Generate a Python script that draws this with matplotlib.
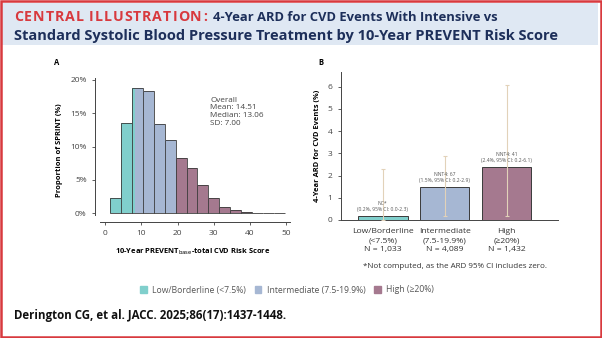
import matplotlib.pyplot as plt
from matplotlib.patches import Rectangle

# histogram (panel A)
bin_edges = [1.5, 4.5, 7.5, 10.5, 13.5, 16.5, 19.5, 22.5, 25.5, 28.5, 31.5, 34.5, 37.5, 40.5, 43.5, 46.5, 49.5]
bin_pct = [2.25, 13.6, 18.75, 18.35, 13.35, 10.95, 8.25, 6.85, 4.2, 2.25, 1.0, 0.45, 0.15, 0.06, 0.04, 0.03]
cut_low = 8.4    # where the colour changes inside the 7.5-10.5 bin
cut_high = 19.5
stats_text = "Overall\nMean: 14.51\nMedian: 13.06\nSD: 7.00"

# ARD bars (panel B)
groups = ["Low/Borderline\n(<7.5%)\nN = 1,033", "Intermediate\n(7.5-19.9%)\nN = 4,089", "High\n(≥20%)\nN = 1,432"]
ard = [0.2, 1.5, 2.4]
ci_low = [0.0, 0.2, 0.2]
ci_high = [2.3, 2.9, 6.1]
bar_notes = ["NC*\n(0.2%, 95% CI: 0.0-2.3)", "NNT4: 67\n(1.5%, 95% CI: 0.2-2.9)", "NNT4: 41\n(2.4%, 95% CI: 0.2-6.1)"]
legend_labels = ["Low/Borderline (<7.5%)", "Intermediate (7.5-19.9%)", "High (≥20%)"]

TEAL, BLUE, PURPLE = "#80cfcc", "#a6b7d3", "#a5798f"
EDGE = "#3a3a3a"
RED, NAVY = "#d8393e", "#1d2f5a"
W, H = 602, 338

plt.rcParams['font.family'] = ['Open Sans', 'DejaVu Sans']

fig = plt.figure(figsize=(W / 100, H / 100), dpi=100)
fig.patch.set_facecolor("white")
renderer = fig.canvas.get_renderer()

def px(x0, y_top, x1, y_bot):
    return [x0 / W, 1 - y_bot / H, (x1 - x0) / W, (y_bot - y_top) / H]

# frame and title band
fig.patches.append(Rectangle((2 / W, 1 - 45 / H), 596 / W, 42 / H, transform=fig.transFigure,
                             facecolor="#dfe8f3", edgecolor="none", zorder=0))
fig.patches.append(Rectangle((1 / W, 1 / H), 600 / W, 336 / H, transform=fig.transFigure,
                             facecolor="none", edgecolor=RED, lw=1.8, zorder=5))

# letter-spaced red lead-in
x = 14.0
for ch in "CENTRAL ILLUSTRATION:":
    t = fig.text(x / W, 1 - 21 / H, ch, color=RED, fontsize=10.2, fontweight="bold", va="baseline")
    x += t.get_window_extent(renderer).width + 1.0 if ch != " " else 4.0
fig.text((x + 5) / W, 1 - 21 / H, "4-Year ARD for CVD Events With Intensive vs", color=NAVY,
         fontsize=9.4, fontweight="bold", va="baseline")
fig.text(14 / W, 1 - 40 / H, "Standard Systolic Blood Pressure Treatment by 10-Year PREVENT Risk Score",
         color=NAVY, fontsize=10.5, fontweight="bold", va="baseline")

# panel A
axA = fig.add_axes(px(95, 78, 290, 221.7))
for i in range(len(bin_pct)):
    l, r, h = bin_edges[i], bin_edges[i + 1], bin_pct[i]
    if r <= cut_low:
        parts = [(l, r, TEAL)]
    elif l < cut_low < r:
        parts = [(l, cut_low, TEAL), (cut_low, r, BLUE)]
    elif r <= cut_high:
        parts = [(l, r, BLUE)]
    elif l >= 40.5:
        parts = [(l, r, "#9a8f97")]
    else:
        parts = [(l, r, PURPLE)]
    for a, b, c in parts:
        axA.bar(a, h, width=b - a, align="edge", color=c, edgecolor="none")
    axA.bar(l, h, width=r - l, align="edge", color="none", edgecolor=EDGE, lw=0.6)
axA.set_xlim(-2.75, 51)
axA.set_ylim(-1.26, 20.3)
axA.set_yticks([0, 5, 10, 15, 20])
axA.set_yticklabels(["0%", "5%", "10%", "15%", "20%"])
axA.set_xticks([0, 10, 20, 30, 40, 50])
axA.spines[["top", "right"]].set_visible(False)
for s in axA.spines.values():
    s.set_color("#444")
    s.set_linewidth(0.7)
axA.tick_params(labelsize=6, colors="#444", length=2.5, width=0.6)
axA.spines["left"].set_bounds(-0.2, 20.3)
axA.spines["bottom"].set_bounds(-1.5, 51)
axA.set_ylabel("Proportion of SPRINT (%)", fontsize=5.4, fontweight="bold", labelpad=5)
axA.set_xlabel("10-Year PREVENT$_{\\rm base}$-total CVD Risk Score", fontsize=5.4,
               fontweight="bold", labelpad=7)
axA.text(29, 17.5, stats_text, fontsize=5.9, color="#444", va="top", linespacing=1.15)
fig.text(54 / W, 1 - 65 / H, "A", fontsize=5.5, fontweight="bold")

# panel B
axB = fig.add_axes(px(340.7, 71.7, 558, 220))
xs = range(len(ard))
axB.bar(xs, ard, width=0.8, color=[TEAL, BLUE, PURPLE], edgecolor=EDGE, lw=0.7, zorder=2)
axB.errorbar(xs, ard, yerr=[[a - lo for a, lo in zip(ard, ci_low)], [hi - a for a, hi in zip(ard, ci_high)]],
             fmt="none", ecolor="#e2d2b9", elinewidth=0.8, capsize=1.5, capthick=0.8, zorder=3)
for x, a, note in zip(xs, ard, bar_notes):
    axB.text(x, a + 0.15, note, ha="center", va="bottom", fontsize=3.6, color="#555",
             linespacing=1.3, zorder=4)
axB.set_xlim(-0.68, 2.83)
axB.set_ylim(0, 6.68)
axB.set_yticks(range(7))
axB.set_xticks(list(xs))
axB.set_xticklabels(groups, fontsize=6.1, color="#333", linespacing=1.35)
axB.spines[["top", "right"]].set_visible(False)
for s in axB.spines.values():
    s.set_color("#444")
    s.set_linewidth(0.7)
axB.tick_params(axis="y", labelsize=6, colors="#444", length=2.5, width=0.6)
axB.tick_params(axis="x", length=0, pad=6)
axB.set_ylabel("4-Year ARD for CVD Events (%)", fontsize=5.4, fontweight="bold", labelpad=5)
fig.text(318 / W, 1 - 65 / H, "B", fontsize=5.5, fontweight="bold")
fig.text(455 / W, 1 - 268.5 / H, "*Not computed, as the ARD 95% CI includes zero.", fontsize=5.8,
         color="#333", ha="center", va="baseline")

# legend
handles = [Rectangle((0, 0), 1, 1, color=c) for c in (TEAL, BLUE, PURPLE)]
fig.legend(handles, legend_labels, loc="center", bbox_to_anchor=(287 / W, 1 - 290 / H), ncol=3,
           frameon=False, fontsize=6.2, handlelength=0.8, handleheight=0.8, columnspacing=1.0,
           handletextpad=0.6, labelcolor="#555")

fig.text(14 / W, 1 - 319 / H, "Derington CG, et al. JACC. 2025;86(17):1437-1448.", fontsize=8.3,
         fontweight="bold", color="#111", va="baseline")

fig.savefig("out.png", dpi=100)
